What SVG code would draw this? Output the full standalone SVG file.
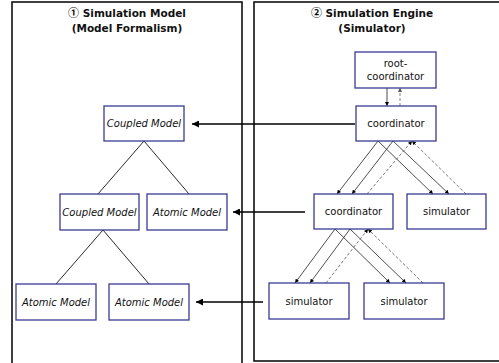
<svg xmlns="http://www.w3.org/2000/svg" width="499" height="363" viewBox="0 0 499 363">
<defs>
<style>
.panel{fill:none;stroke:#000;stroke-width:1.5}
.title{font-family:"DejaVu Sans",Verdana,sans-serif;font-size:10.5px;font-weight:bold;text-anchor:middle;fill:#111}
.circ{font-family:"Noto Sans CJK JP","DejaVu Sans",sans-serif;font-size:11px}
.box{fill:#fff;stroke:#3a3a94;stroke-width:1.3}
.lbl{font-family:"DejaVu Sans",Verdana,sans-serif;font-size:10px;text-anchor:middle;fill:#111}
.it{font-style:italic}
.tree{stroke:#111;stroke-width:0.9;fill:none}
.big{stroke:#000;stroke-width:1.5;fill:none;marker-end:url(#bigHead)}
.call{stroke:#222;stroke-width:0.8;fill:none;marker-end:url(#smallHead)}
.ret{stroke:#555;stroke-width:0.8;stroke-dasharray:3,2;fill:none;marker-end:url(#smallHead)}
.ret2{stroke:#999;stroke-width:1.2;stroke-dasharray:3,2;fill:none;marker-end:url(#grayHead)}
</style>
<marker id="bigHead" viewBox="0 0 10 10" refX="10" refY="5" markerWidth="8" markerHeight="7" markerUnits="userSpaceOnUse" orient="auto">
<path d="M0,0 L10,5 L0,10 z" fill="#000"/>
</marker>
<marker id="smallHead" viewBox="0 0 10 10" refX="10" refY="5" markerWidth="4.5" markerHeight="4" markerUnits="userSpaceOnUse" orient="auto">
<path d="M0,0 L10,5 L0,10 z" fill="#000"/>
</marker>
<marker id="grayHead" viewBox="0 0 10 10" refX="10" refY="5" markerWidth="4.5" markerHeight="4" markerUnits="userSpaceOnUse" orient="auto">
<path d="M0,0 L10,5 L0,10 z" fill="#555"/>
</marker>
</defs>

<g id="panel-model">
<rect class="panel" x="12" y="2" width="230" height="364"/>
<text class="title" x="127" y="17"><tspan class="circ">①</tspan> Simulation Model</text>
<text class="title" x="127" y="32">(Model Formalism)</text>
</g>
<g id="panel-engine">
<rect class="panel" x="254" y="2" width="250" height="359"/>
<text class="title" x="372" y="17"><tspan class="circ">②</tspan> Simulation Engine</text>
<text class="title" x="372" y="32">(Simulator)</text>
</g>

<g id="connectors">
<line class="tree" x1="144" y1="141" x2="98" y2="194"/>
<line class="tree" x1="144" y1="141" x2="189" y2="194"/>
<line class="tree" x1="103" y1="230" x2="56" y2="284"/>
<line class="tree" x1="103" y1="230" x2="149" y2="284"/>

<line class="big" x1="355" y1="124" x2="192" y2="124"/>
<line class="big" x1="305" y1="212" x2="233" y2="212"/>
<line class="big" x1="263" y1="302" x2="196" y2="302"/>

<line class="call" x1="387" y1="88" x2="387" y2="106"/>
<line class="ret2" x1="400" y1="106" x2="400" y2="88"/>

<line class="call" x1="378" y1="141" x2="337" y2="194"/>
<line class="call" x1="393" y1="141" x2="352" y2="194"/>
<line class="call" x1="378" y1="141" x2="433" y2="194"/>
<line class="call" x1="393" y1="141" x2="449" y2="194"/>
<line class="ret" x1="367" y1="194" x2="412" y2="141"/>
<line class="ret" x1="466" y1="194" x2="412" y2="141"/>

<line class="call" x1="335" y1="229" x2="295" y2="283"/>
<line class="call" x1="350" y1="229" x2="310" y2="283"/>
<line class="call" x1="335" y1="229" x2="390" y2="283"/>
<line class="call" x1="350" y1="229" x2="406" y2="283"/>
<line class="ret" x1="326" y1="283" x2="368" y2="229"/>
<line class="ret" x1="423" y1="283" x2="368" y2="229"/>
</g>

<g id="coupled-top">
<rect class="box" x="104" y="106" width="80" height="35"/>
<text class="lbl it" x="144" y="127">Coupled Model</text>
</g>
<g id="coupled-mid">
<rect class="box" x="60" y="194" width="79" height="36"/>
<text class="lbl it" x="99.5" y="216">Coupled Model</text>
</g>
<g id="atomic-mid">
<rect class="box" x="147" y="194" width="80" height="36"/>
<text class="lbl it" x="187" y="216">Atomic Model</text>
</g>
<g id="atomic-low-left">
<rect class="box" x="16" y="284" width="80" height="36"/>
<text class="lbl it" x="56" y="306">Atomic Model</text>
</g>
<g id="atomic-low-right">
<rect class="box" x="109" y="284" width="80" height="36"/>
<text class="lbl it" x="149" y="306">Atomic Model</text>
</g>

<g id="root-coordinator">
<rect class="box" x="355" y="52" width="81" height="36"/>
<text class="lbl" x="395.5" y="67">root-</text>
<text class="lbl" x="395.5" y="80">coordinator</text>
</g>
<g id="coordinator-top">
<rect class="box" x="356" y="106" width="80" height="35"/>
<text class="lbl" x="396" y="127">coordinator</text>
</g>
<g id="coordinator-mid">
<rect class="box" x="314" y="194" width="79" height="35"/>
<text class="lbl" x="353.5" y="215">coordinator</text>
</g>
<g id="simulator-mid">
<rect class="box" x="407" y="194" width="79" height="35"/>
<text class="lbl" x="446.5" y="215">simulator</text>
</g>
<g id="simulator-low-left">
<rect class="box" x="269" y="283" width="80" height="36"/>
<text class="lbl" x="309" y="305">simulator</text>
</g>
<g id="simulator-low-right">
<rect class="box" x="364" y="283" width="80" height="36"/>
<text class="lbl" x="404" y="305">simulator</text>
</g>
</svg>
